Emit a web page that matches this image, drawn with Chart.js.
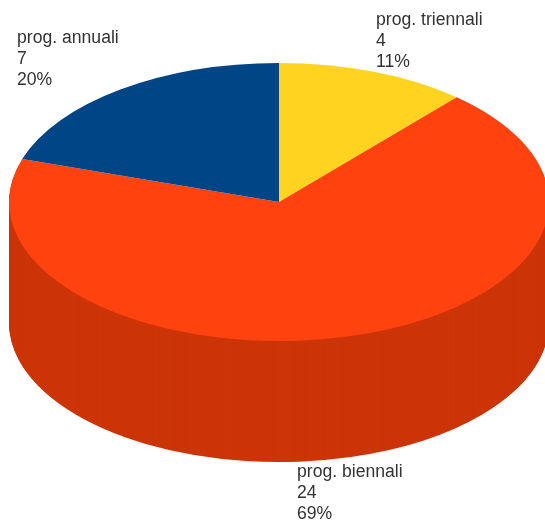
<!DOCTYPE html>
<html>
<head>
<meta charset="utf-8">
<style>
  html, body { margin: 0; padding: 0; background: #fff; }
  #wrap { width: 545px; height: 520px; overflow: hidden; }
</style>
</head>
<body>
<div id="wrap"><canvas id="pieChart" width="545" height="520"></canvas></div>
<script src="https://cdn.jsdelivr.net/npm/chart.js@4"></script>
<script>
const categories = ['prog. triennali', 'prog. biennali', 'prog. annuali'];
const values = [4, 24, 7];
const percents = ['11%', '69%', '20%'];
const colors = ['#FFD320', '#FF420E', '#004586'];

const SIDE = '#CC3508';
const DEPTH = 121;
// first baseline of each label block, same order as categories
const labelPos = [[376, 25], [297, 477], [17, 43]];

// squash the pie into an ellipse and extrude the front slice
const tilt = {
  id: 'tilt',
  beforeDatasetsDraw(chart) {
    const ctx = chart.ctx;
    const arc = chart.getDatasetMeta(0).data[1];
    const flat = () => {
      ctx.translate(279, 202);
      ctx.scale(270 / arc.outerRadius, 139 / arc.outerRadius);
      ctx.translate(-arc.x, -arc.y);
    };
    const top = arc.options;
    arc.options = { ...top, backgroundColor: SIDE };
    for (let d = DEPTH; d > 0; d--) {
      ctx.save();
      ctx.translate(0, d);
      flat();
      arc.draw(ctx);
      ctx.restore();
    }
    arc.options = top;
    ctx.save();
    flat();
  },
  afterDatasetsDraw(chart) {
    chart.ctx.restore();
  },
  afterDraw(chart) {
    const ctx = chart.ctx;
    ctx.save();
    ctx.font = '17.6px "Liberation Sans"';
    ctx.fillStyle = '#333';
    categories.forEach((c, i) => {
      const [x, y] = labelPos[i];
      ctx.fillText(c, x, y);
      ctx.fillText(values[i], x, y + 21);
      ctx.fillText(percents[i], x, y + 42);
    });
    ctx.restore();
  }
};

new Chart('pieChart', {
  type: 'pie',
  data: {
    labels: categories,
    datasets: [{
      data: values,
      backgroundColor: colors,
      borderWidth: 0,
      clip: false
    }]
  },
  options: {
    responsive: false,
    animation: false,
    plugins: { legend: { display: false }, tooltip: { enabled: false } }
  },
  plugins: [tilt]
});
</script>
</body>
</html>
